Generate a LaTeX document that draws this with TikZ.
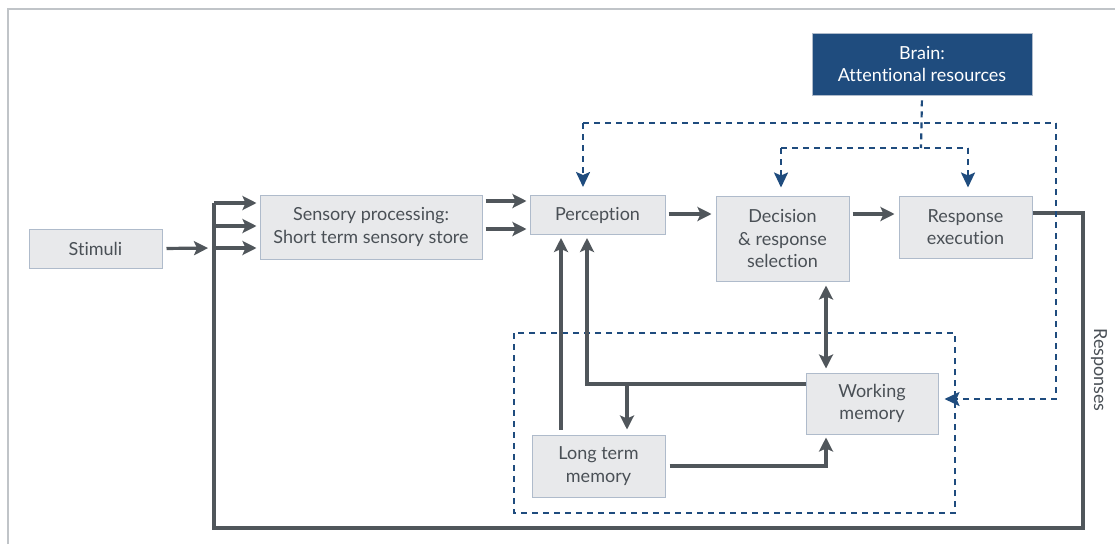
\documentclass[tikz,border=0pt]{standalone}
\usepackage{fontspec}
\setmainfont{Lato}[Ligatures={NoCommon}]
\usetikzlibrary{arrows.meta}
\definecolor{boxfill}{HTML}{E8E9EB}
\definecolor{boxline}{HTML}{AFBBCB}
\definecolor{txt}{HTML}{4A5056}
\definecolor{lncol}{HTML}{50565B}
\definecolor{blu}{HTML}{1F4C7E}
\definecolor{framecol}{HTML}{C0C4C8}
\tikzset{
  stepbox/.style={draw=boxline, fill=boxfill, line width=1pt, text=txt, inner sep=0pt, align=center,
    font=\fontsize{18}{22.5}\selectfont},
  brainbox/.style={draw=boxline, fill=blu, line width=0.8pt, text=white, inner sep=0pt, align=center,
    font=\fontsize{18}{22.5}\selectfont},
  ln/.style={draw=lncol, line width=3.2pt, line join=miter},
  arr/.style={ln, -{Stealth[length=14pt,width=14pt,inset=3pt]}},
  darr/.style={ln, {Stealth[length=14pt,width=14pt,inset=3pt]}-{Stealth[length=14pt,width=14pt,inset=3pt]}},
  dsh/.style={draw=blu, line width=2.2pt, dash pattern=on 6pt off 5pt},
  darrow/.style={dsh, -{Stealth[length=15pt,width=14pt,inset=3pt]}},
}
\begin{document}
\begin{tikzpicture}[x=1pt,y=-1pt]
\useasboundingbox (0,0) rectangle (1115,544);
% frame
\draw[framecol, line width=1.5pt] (8,544) -- (8,9) -- (1115,9);

% nodes
\node[stepbox, minimum width=133pt, minimum height=39pt] (stim) at (95.5,248.5) {Stimuli};
\node[stepbox, minimum width=222pt, minimum height=64pt] (sens) at (371,227) {Sensory processing:\\Short term sensory store};
\node[stepbox, minimum width=135pt, minimum height=39pt] (perc) at (597.5,215) {Perception};
\node[stepbox, minimum width=133pt, minimum height=85pt] (dec) at (782.5,238.5) {Decision\\\& response\\selection};
\node[stepbox, minimum width=133pt, minimum height=62pt] (resp) at (965.5,227) {Response\\execution};
\node[brainbox, minimum width=220pt, minimum height=62pt] (brain) at (922,64) {Brain:\\Attentional resources};
\node[stepbox, minimum width=132pt, minimum height=61pt] (wm) at (872,403.5) {Working\\memory};
\node[stepbox, minimum width=133pt, minimum height=62pt] (ltm) at (598.5,466) {Long term\\memory};
\node[rotate=-90, text=txt, font=\fontsize{18}{20}\selectfont] (resplbl) at (1099,370) {Responses};

% memory dashed region
\draw[dsh] (514,333) rectangle (955,513);

% coordinates
\coordinate (busT) at (214,203);
\coordinate (bus2) at (214,226);
\coordinate (bus3) at (214,248);
\coordinate (fbR) at (1083,213);
\coordinate (fbB) at (1083,528);
\coordinate (fbL) at (214,528);
\coordinate (a1) at (0,201);
\coordinate (a2) at (0,229);
\coordinate (a3) at (0,214);
\coordinate (m1) at (587,384);
\coordinate (m2) at (627,384);
\coordinate (m3) at (561,430);
\coordinate (m4) at (826,466);
\coordinate (dTop) at (921,123);
\coordinate (dMid) at (921,148);
\coordinate (pA) at (583,123);
\coordinate (qA) at (1056,123);
\coordinate (qB) at (1056,399);
\coordinate (dL) at (781,148);
\coordinate (dR) at (968,148);

% feedback loop
\draw[ln] (resp.east |- fbR) -- (fbR) -- (fbB) -- (fbL) -- (busT);
\draw[arr, shorten >=3pt] (busT) -- (sens.west |- busT);
\draw[arr, shorten >=3pt] (bus2) -- (sens.west |- bus2);
\draw[arr, shorten >=3pt] (bus3) -- (sens.west |- bus3);
\draw[arr, shorten <=4pt, shorten >=6pt] (stim.east) -- (bus3);

% main chain
\draw[arr, shorten <=3pt, shorten >=3pt] (sens.east |- a1) -- (perc.west |- a1);
\draw[arr, shorten <=3pt, shorten >=3pt] (sens.east |- a2) -- (perc.west |- a2);
\draw[arr, shorten <=3pt, shorten >=4pt] (perc.east |- a3) -- (dec.west |- a3);
\draw[arr, shorten <=3pt, shorten >=4pt] (dec.east |- a3) -- (resp.west |- a3);

% memory links
\draw[arr, shorten >=3pt] (wm.west |- m1) -- (m1) -- (m1 |- perc.south);
\draw[arr, shorten >=5pt] (m2) -- (m2 |- ltm.north);
\draw[arr, shorten <=5pt, shorten >=3pt] (m3 |- ltm.north) -- (m3 |- perc.south);
\draw[arr, shorten <=4pt, shorten >=3pt] (ltm.east |- m4) -- (m4) -- (m4 |- wm.south);
\draw[darr, shorten <=4pt, shorten >=4pt] (m4 |- dec.south) -- (m4 |- wm.north);

% attention links
\draw[dsh, shorten <=5pt] (brain.south) -- (dMid);
\draw[dsh] (pA) -- (qA);
\draw[dsh] (dL) -- (dR);
\draw[darrow, shorten >=8pt] (pA) -- (pA |- perc.north);
\draw[darrow, shorten >=8pt] (dL) -- (dL |- dec.north);
\draw[darrow, shorten >=8pt] (dR) -- (dR |- resp.north);
\draw[darrow, shorten >=6pt] (qA) -- (qB) -- (wm.east |- qB);
\end{tikzpicture}
\end{document}
